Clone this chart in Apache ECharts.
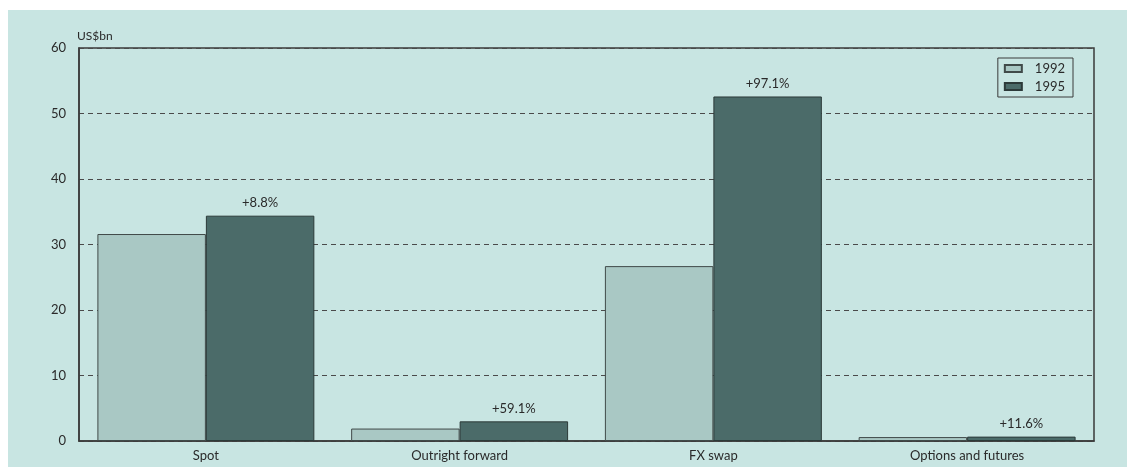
<!DOCTYPE html>
<html>
<head>
<meta charset="utf-8">
<script src="https://cdn.jsdelivr.net/npm/echarts@6/dist/echarts.min.js"></script>
<style>
  html, body { margin: 0; padding: 0; background: #ffffff; }
  #chart { width: 1127px; height: 467px; }
</style>
</head>
<body>
<div id="chart"></div>
<script>
// Foreign exchange turnover by instrument, US$bn
const categories = ['Spot', 'Outright forward', 'FX swap', 'Options and futures'];
const values1992 = [31.6, 1.9, 26.7, 0.6];
const values1995 = [34.4, 3.0, 52.6, 0.67];
const changeLabels = ['+8.8%', '+59.1%', '+97.1%', '+11.6%'];
const yTicks = [0, 10, 20, 30, 40, 50, 60];

const FONT = 'Lato, "Open Sans", sans-serif';
const TEXT = '#2a2a2a';

const chart = echarts.init(document.getElementById('chart'));
chart.setOption({
  animation: false,
  backgroundColor: '#ffffff',
  textStyle: { fontFamily: FONT },
  graphic: [{
    type: 'rect',
    z: -10,
    shape: { x: 8, y: 10, width: 1119, height: 457 },
    style: { fill: '#c8e5e2' }
  }],
  grid: {
    left: 79, right: 33, top: 48, bottom: 26,
    show: true,
    borderColor: '#3a3a3a',
    borderWidth: 1.5,
    backgroundColor: 'transparent'
  },
  legend: {
    right: 54, top: 58,
    orient: 'vertical',
    icon: 'rect',
    itemWidth: 17, itemHeight: 7,
    itemGap: 5,
    padding: [4, 8, 4, 6],
    borderColor: '#3a3a3a',
    borderWidth: 1,
    textStyle: { fontFamily: FONT, fontSize: 13, color: TEXT, padding: [0, 0, 0, 8] },
    data: ['1992', '1995']
  },
  xAxis: {
    type: 'category',
    data: categories,
    axisLine: { lineStyle: { color: '#3a3a3a', width: 1.5 } },
    axisTick: { show: false },
    axisLabel: { fontFamily: FONT, fontSize: 13, color: TEXT, margin: 8 }
  },
  yAxis: {
    type: 'value',
    min: yTicks[0],
    max: yTicks[yTicks.length - 1],
    interval: 10,
    name: 'US$bn',
    nameLocation: 'end',
    nameGap: 6,
    nameTextStyle: { fontFamily: FONT, fontSize: 12, color: TEXT, align: 'left', padding: [0, 0, 0, -2] },
    axisLine: { show: true, lineStyle: { color: '#3a3a3a', width: 1.5 } },
    axisTick: { show: false },
    axisLabel: { fontFamily: FONT, fontSize: 13, color: TEXT, margin: 13 },
    splitLine: { lineStyle: { color: '#4a4a4a', type: [5, 4], width: 1 } }
  },
  series: [
    {
      name: '1992',
      type: 'bar',
      data: values1992,
      barGap: '0%',
      barCategoryGap: '14.5%',
      itemStyle: { color: '#a9c8c4', borderColor: '#404a49', borderWidth: 1 }
    },
    {
      name: '1995',
      type: 'bar',
      data: values1995,
      barGap: '0%',
      barCategoryGap: '14.5%',
      itemStyle: { color: '#4b6b69', borderColor: '#2c3a39', borderWidth: 1 },
      label: {
        show: true,
        position: 'top',
        distance: 6,
        fontFamily: FONT,
        fontSize: 13,
        color: TEXT,
        formatter: (p) => changeLabels[p.dataIndex]
      }
    }
  ]
});
</script>
</body>
</html>
